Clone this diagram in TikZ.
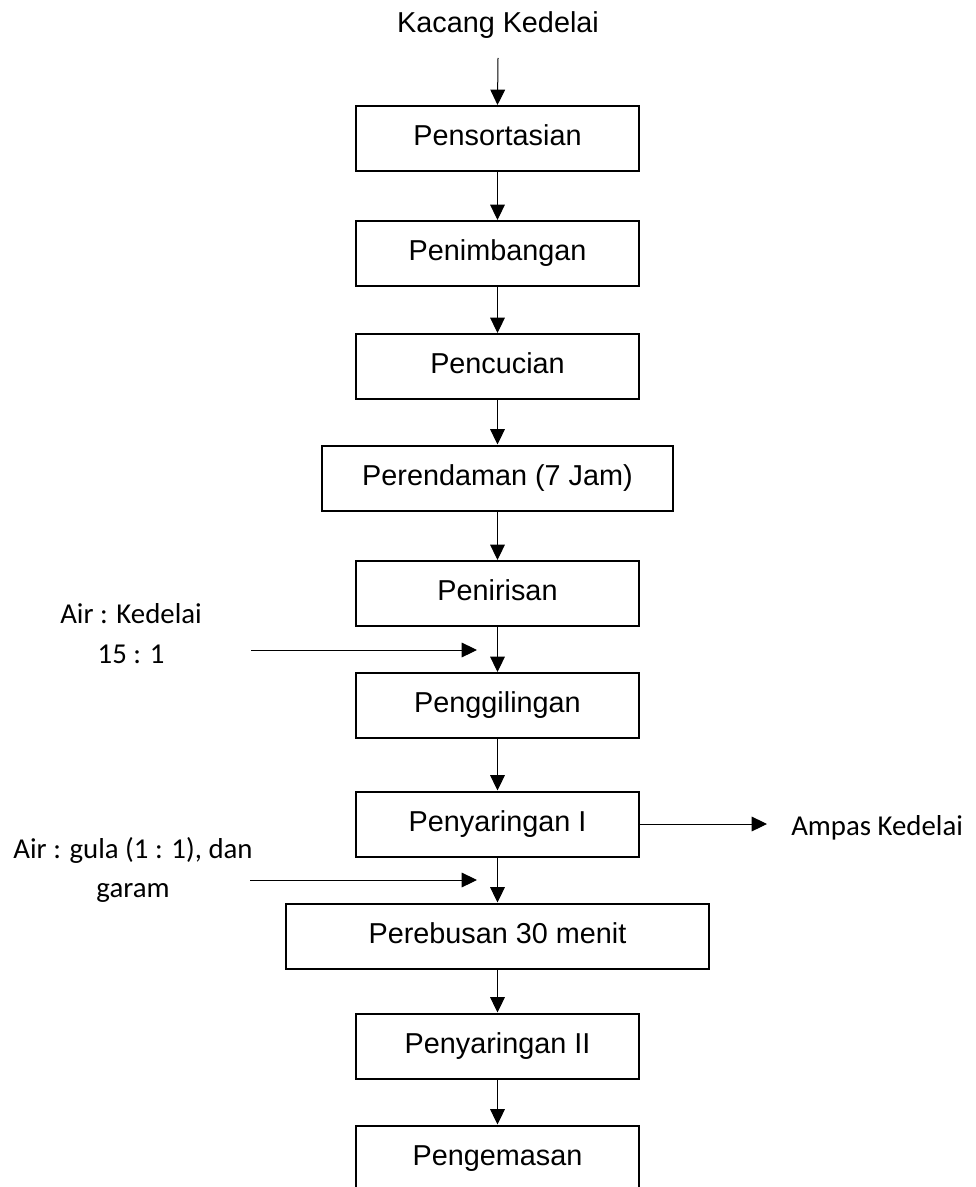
\documentclass[tikz,border=0pt]{standalone}
\usepackage{fontspec}
\setmainfont{Liberation Sans}
\newfontfamily\calibrifont{Carlito}
\usetikzlibrary{arrows.meta}
\begin{document}
\begin{tikzpicture}[x=0.75pt,y=-0.75pt,
  procbox/.style={draw, line width=1.5pt, minimum height=48.75pt, minimum width=212.25pt,
    inner sep=0pt, font=\fontsize{21.6}{25}\selectfont, text height=15.5pt, text depth=4.5pt},
  flow/.style={line width=0.75pt, -{Triangle[length=11.5pt,width=11pt]}},
  sidelabel/.style={font=\calibrifont\fontsize{21.6}{25}\selectfont, anchor=base, inner sep=0pt},
  toplabel/.style={font=\fontsize{21.6}{25}\selectfont, anchor=base, inner sep=0pt}]
\useasboundingbox (0,0) rectangle (975,1187);
\node[toplabel] (src) at (498,33) {Kacang Kedelai};
\coordinate (srcend) at (498,58);
\node[procbox] (p1) at (497.5,138.5) {Pensortasian};
\node[procbox] (p2) at (497.5,253.5) {Penimbangan};
\node[procbox] (p3) at (497.5,366.5) {Pencucian};
\node[procbox, minimum width=263.25pt] (p4) at (497.5,478) {Perendaman (7 Jam)};
\node[procbox] (p5) at (497.5,593.5) {Penirisan};
\node[procbox] (p6) at (497.5,705.5) {Penggilingan};
\node[procbox] (p7) at (497.5,824) {Penyaringan I};
\node[procbox, minimum width=317.25pt] (p8) at (497.5,936) {Perebusan 30 menit};
\node[procbox] (p9) at (497.5,1046) {Penyaringan II};
\node[procbox] (p10) at (497.5,1158) {Pengemasan};
\node[sidelabel] (l1) at (131,623) {Air : Kedelai};
\node[sidelabel] (l2) at (131,663) {15 : 1};
\coordinate (in1s) at (251,650);
\coordinate (in1e) at (477,650);
\node[sidelabel] (l3) at (133,858) {Air : gula (1 : 1), dan};
\node[sidelabel] (l4) at (133,897) {garam};
\coordinate (in2s) at (250,880);
\coordinate (in2e) at (477,880);
\coordinate (outend) at (767,824);
\node[sidelabel, anchor=base west] (out) at (791,835) {Ampas Kedelai};
\draw[flow] (srcend) -- (p1.north);
\draw[flow] (p1.south) -- (p2.north);
\draw[flow] (p2.south) -- (p3.north);
\draw[flow] (p3.south) -- (p4.north);
\draw[flow] (p4.south) -- (p5.north);
\draw[flow] (p5.south) -- (p6.north);
\draw[flow] (p6.south) -- (p7.north);
\draw[flow] (p7.south) -- (p8.north);
\draw[flow] (p8.south) -- (p9.north);
\draw[flow] (p9.south) -- (p10.north);
\draw[flow] (in1s) -- (in1e);
\draw[flow] (in2s) -- (in2e);
\draw[flow] (p7.east) -- (outend);
\end{tikzpicture}
\end{document}
